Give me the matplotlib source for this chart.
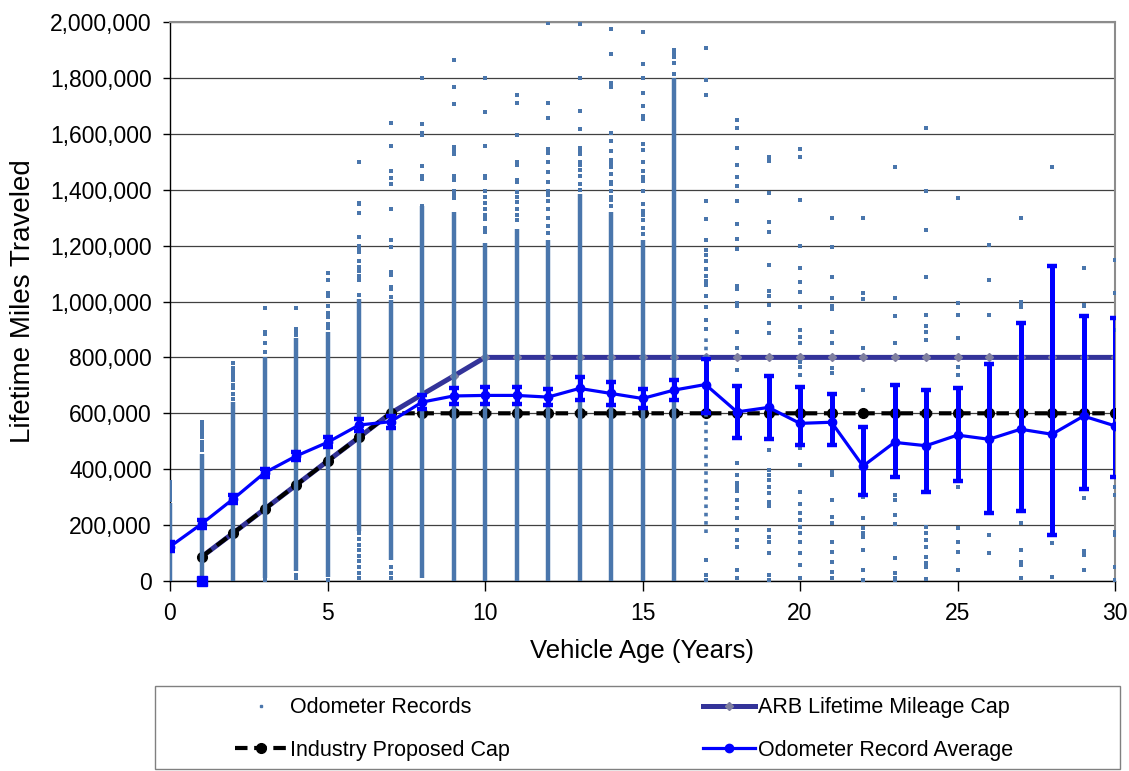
import matplotlib
matplotlib.use("Agg")
import matplotlib.pyplot as plt
from matplotlib.lines import Line2D
from matplotlib.patches import Rectangle
from matplotlib.ticker import FuncFormatter, MultipleLocator

plt.rcParams['font.family'] = ['Liberation Sans', 'DejaVu Sans']

# -------------------
# Data (miles, in thousands)
# -------------------
ages = list(range(31))
avg_miles = [123, 204, 293, 387, 447, 496, 558, 570, 640, 662, 664, 664, 658, 689, 671, 653,
             683, 703, 605, 621, 564, 568, 411, 496, 484, 522, 507, 543, 525, 590, 555]
avg_upper = [138, 219, 308, 402, 462, 514, 578, 592, 665, 692, 694, 694, 688, 729, 711, 688,
             718, 795, 699, 734, 693, 670, 552, 701, 685, 690, 775, 922, 1127, 948, 940]
avg_lower = [108, 189, 278, 372, 432, 478, 538, 548, 615, 632, 634, 634, 628, 649, 631, 618,
             648, 601, 513, 507, 487, 487, 308, 371, 320, 356, 242, 250, 165, 330, 373]

stray_age = [1]
stray_miles = [0]

cap_ages = list(range(1, 31))
arb_cap = [86, 171, 257, 343, 429, 514, 600, 667, 733, 800, 800, 800, 800, 800, 800,
           800, 800, 800, 800, 800, 800, 800, 800, 800, 800, 800, 800, 800, 800, 800]
industry_cap = [86, 171, 257, 343, 429, 514, 600, 600, 600, 600, 600, 600, 600, 600, 600,
                600, 600, 600, 600, 600, 600, 600, 600, 600, 600, 600, 600, 600, 600, 600]

# records so dense they read as a solid column
dense_age = [0, 1, 2, 3, 4, 5, 6, 7, 8, 9, 10, 11, 12, 13, 14, 15, 16]
dense_lo = [0, 0, 0, 10, 35, 15, 180, 75, 10, 0, 0, 0, 0, 0, 0, 0, 0]
dense_hi = [280, 454, 640, 800, 870, 890, 1010, 1005, 1340, 1320, 1210, 1260, 1220, 1385, 1320, 1220, 1800]

# age 17: closely spaced records (dotted column)
dotted_age = [17]
dotted_lo = [172]
dotted_hi = [870]

# individual records outside the dense columns
records = {
    0: [355, 345, 330, 315, 300, 290],
    1: [570, 558, 545, 530, 515, 497, 482, 470],
    2: [780, 762, 748, 733, 718, 703, 690, 670, 650],
    3: [976, 890, 883, 850, 820, 5],
    4: [976, 900, 892, 880, 20, 10],
    5: [1103, 1077, 1030, 1020, 985, 960, 945, 920, 905, 5],
    6: [1498, 1354, 1350, 1317, 1230, 1200, 1190, 1178, 1146, 1125, 1108, 1090, 1077, 1023,
        171, 150, 130, 110, 90, 70, 50, 30, 10],
    7: [1640, 1557, 1467, 1443, 1420, 1330, 1220, 1196, 1105, 1095, 1052, 1045, 1017, 50, 30, 12],
    8: [1798, 1634, 1603, 1595, 1486, 1450, 1440, 1342],
    9: [1864, 1766, 1705, 1554, 1540, 1528, 1449, 1435, 1396, 1380, 1370],
    10: [1798, 1679, 1556, 1450, 1441, 1396, 1375, 1354, 1330, 1310, 1295, 1262, 1250],
    11: [1738, 1711, 1596, 1500, 1490, 1435, 1427, 1390, 1375, 1355, 1330, 1310, 1290],
    12: [1997, 1709, 1657, 1545, 1532, 1498, 1464, 1429, 1396, 1380, 1360, 1330, 1300, 1270, 1245],
    13: [1993, 1798, 1683, 1616, 1550, 1540, 1528, 1498, 1490, 1470, 1450, 1420, 1400],
    14: [1974, 1885, 1783, 1769, 1604, 1575, 1540, 1505, 1495, 1483, 1455, 1429, 1420, 1396,
         1375, 1363, 1340],
    15: [1965, 1850, 1798, 1747, 1698, 1665, 1652, 1565, 1542, 1498, 1466, 1445, 1430, 1396,
         1350, 1325, 1310, 1290, 1262, 1240],
    16: [1900, 1890, 1880, 1875, 1852, 1813],
    17: [1908, 1792, 1740, 1360, 1295, 1220, 1185, 1165, 1145, 1117, 1090, 1075, 1060, 1020,
         980, 934, 900, 75, 21, 4],
    18: [1648, 1620, 1550, 1490, 1445, 1414, 1360, 1278, 1224, 1188, 1055, 1045, 995, 985,
         892, 832, 755, 421, 379, 352, 338, 323, 290, 260, 224, 182, 147, 123, 39, 9],
    19: [1518, 1504, 1388, 1286, 1250, 1130, 1039, 1019, 986, 922, 886, 469, 397, 379, 361,
         337, 316, 284, 268, 182, 159, 141, 99, 22, 4],
    20: [1547, 1518, 1362, 1197, 1120, 1071, 1035, 979, 898, 874, 850, 785, 767, 737, 475,
         415, 320, 276, 242, 218, 194, 170, 141, 99, 57, 9],
    21: [1299, 1194, 1088, 1013, 984, 972, 892, 850, 761, 743, 391, 379, 290, 230, 209, 141,
         105, 69, 33, 9],
    22: [1299, 1029, 1010, 832, 683, 302, 224, 188, 170, 158, 111, 39, 4],
    23: [1480, 1013, 948, 853, 308, 290, 236, 204, 81, 30, 9, 0],
    24: [1620, 1396, 1256, 1088, 952, 912, 892, 864, 320, 194, 170, 147, 123, 87, 63, 51, 6],
    25: [1370, 995, 993, 952, 868, 767, 737, 337, 188, 141, 105, 39],
    26: [1202, 1076, 952, 165, 99],
    27: [1299, 998, 993, 981, 206, 111, 69, 57, 9],
    28: [1483, 135, 16],
    29: [1120, 987, 984, 296, 108, 93, 39],
    30: [1148, 1030, 898, 337, 308, 177, 165, 51, 4],
}

K = 1000
rec_color = '#4a76ac'

# -------------------
# Plot
# -------------------
fig = plt.figure(figsize=(11.29, 7.71), dpi=100)
ax = fig.add_axes([170 / 1129, 1 - 581 / 771, (1115 - 170) / 1129, (581 - 22) / 771])

ax.plot(cap_ages, [v * K for v in arb_cap], color='#333399', lw=3.6, marker='D', ms=4,
        mfc='#7f7f9f', mec='#7f7f9f', zorder=2)
ax.plot(cap_ages, [v * K for v in industry_cap], color='black', lw=3, ls=(0, (3, 1.6)),
        marker='o', ms=7, zorder=3)

ax.vlines(dense_age, [v * K for v in dense_lo], [v * K for v in dense_hi],
          color=rec_color, lw=3.2, zorder=4)
ax.vlines(dotted_age, [v * K for v in dotted_lo], [v * K for v in dotted_hi],
          color=rec_color, lw=2.6, ls=(0, (1, 1.3)), zorder=4)
xs, ys = [], []
for a, vals in records.items():
    xs += [a] * len(vals)
    ys += [v * K for v in vals]
ax.scatter(xs, ys, marker='s', s=7, color=rec_color, lw=0, zorder=4)

ax.errorbar(ages, [v * K for v in avg_miles],
            yerr=[[(m - lo) * K for m, lo in zip(avg_miles, avg_lower)],
                  [(hi - m) * K for m, hi in zip(avg_miles, avg_upper)]],
            fmt='-o', color='#0000ff', lw=2.3, ms=6, elinewidth=3.6, capsize=3.6,
            capthick=3.2, zorder=5)
ax.plot(stray_age, [v * K for v in stray_miles], ls='none', marker='s', ms=7,
        color='#0000ff', zorder=5, clip_on=False)

ax.set_xlim(0, 30)
ax.set_ylim(0, 2000000)
ax.xaxis.set_major_locator(MultipleLocator(5))
ax.yaxis.set_major_locator(MultipleLocator(200000))
ax.yaxis.set_major_formatter(FuncFormatter(lambda v, p: f'{int(v):,}'))
ax.yaxis.grid(True, color='#404040', lw=0.9)
ax.set_axisbelow(True)

for s in ['left', 'bottom']:
    ax.spines[s].set_color('black')
    ax.spines[s].set_linewidth(1)
for s in ['top', 'right']:
    ax.spines[s].set_color('#8c8c8c')
    ax.spines[s].set_linewidth(1.5)

ax.tick_params(axis='x', direction='out', length=7, width=1, labelsize=16.5, pad=8)
ax.tick_params(axis='y', direction='out', length=5, width=1, labelsize=16.5, pad=8)
ax.set_xlabel('Vehicle Age (Years)', fontsize=18.5, labelpad=10)
ax.set_ylabel('Lifetime Miles Traveled', fontsize=20, labelpad=10)

# -------------------
# Legend
# -------------------
handles = [
    Line2D([], [], ls='none', marker='s', ms=1.5, color=rec_color),
    Line2D([], [], color='black', lw=3, ls=(0, (3, 1.6)), marker='o', ms=7),
    Line2D([], [], color='#333399', lw=3.6, marker='D', ms=4, mfc='#7f7f9f', mec='#7f7f9f'),
    Line2D([], [], color='#0000ff', lw=2.3, marker='o', ms=6),
]
labels = ['Odometer Records', 'Industry Proposed Cap', 'ARB Lifetime Mileage Cap',
          'Odometer Record Average']
fig.legend(handles, labels, loc='center', bbox_to_anchor=(624 / 1129, 1 - 729 / 771),
           ncol=2, frameon=False, fontsize=15.5, handlelength=2.4, handletextpad=0.15,
           columnspacing=9.0, labelspacing=1.0)
fig.add_artist(Rectangle((155 / 1129, 0.002), (1120 - 155) / 1129, (769 - 686) / 771,
                         transform=fig.transFigure, fill=False, ec='#808080', lw=1))

fig.savefig('out.png', dpi=100)
